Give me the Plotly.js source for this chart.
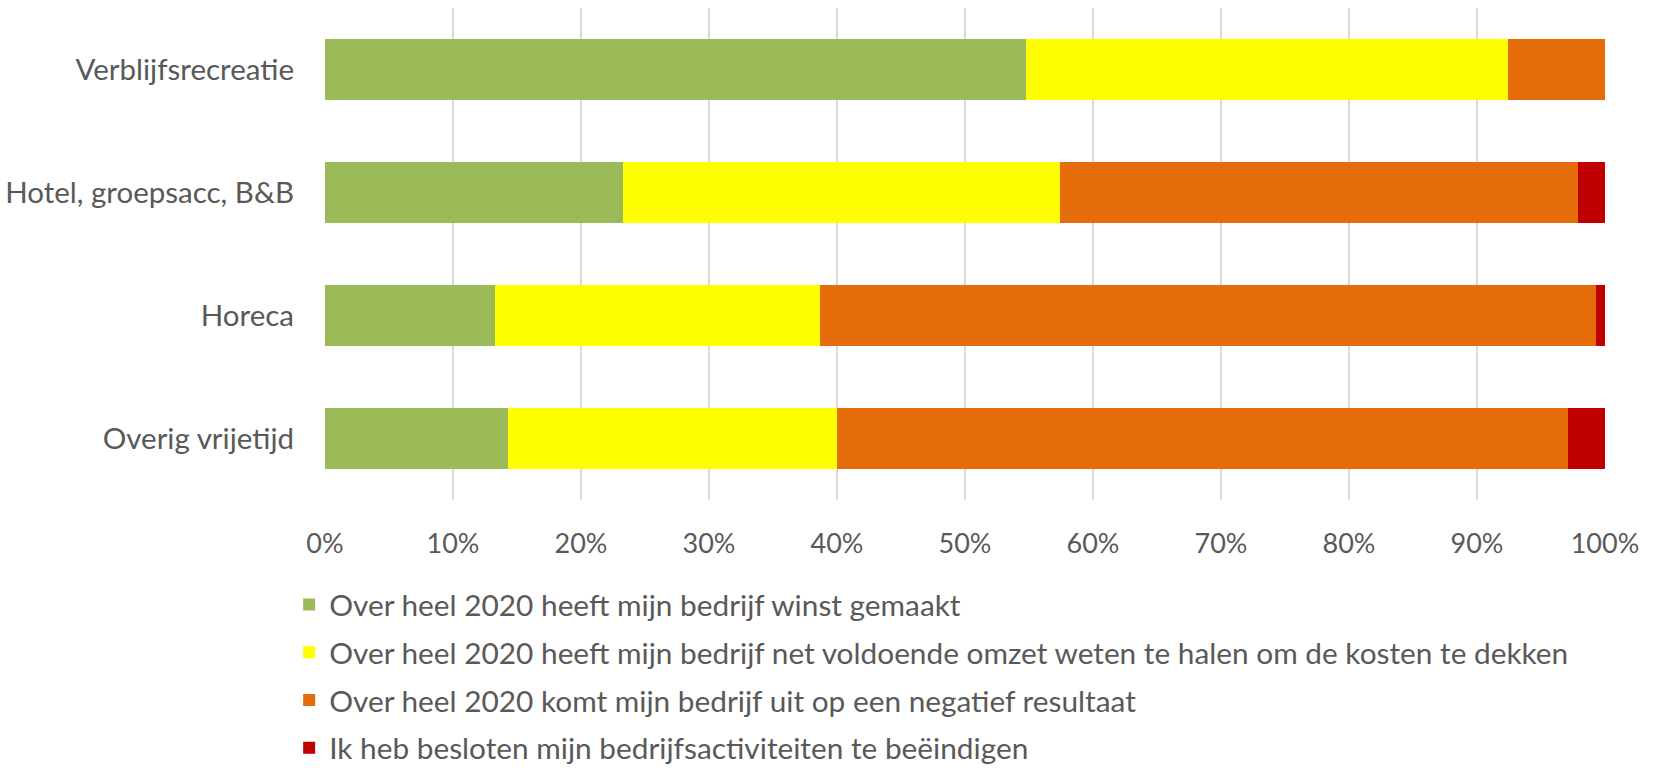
<!DOCTYPE html>
<html>
<head>
<meta charset="utf-8">
<script src="https://cdn.plot.ly/plotly-3.0.1.min.js"></script>
<style>html,body{margin:0;padding:0;background:#fff}#chart{width:1656px;height:769px}</style>
</head>
<body>
<div id="chart"></div>
<script>
const categories = ["Verblijfsrecreatie", "Hotel, groepsacc, B&B", "Horeca", "Overig vrijetijd"];
const seriesNames = [
  "Over heel 2020 heeft mijn bedrijf winst gemaakt",
  "Over heel 2020 heeft mijn bedrijf net voldoende omzet weten te halen om de kosten te dekken",
  "Over heel 2020 komt mijn bedrijf uit op een negatief resultaat",
  "Ik heb besloten mijn bedrijfsactiviteiten te beëindigen"
];
const winst = [0.548, 0.233, 0.133, 0.143];
const voldoende = [0.376, 0.341, 0.254, 0.257];
const negatief = [0.076, 0.405, 0.606, 0.571];
const beeindigen = [0.000, 0.021, 0.007, 0.029];
const colors = ["#9BBB59", "#FFFF00", "#E46C0A", "#C00000"];
const tickVals = [0, 0.1, 0.2, 0.3, 0.4, 0.5, 0.6, 0.7, 0.8, 0.9, 1.0];
const tickText = ["0%", "10%", "20%", "30%", "40%", "50%", "60%", "70%", "80%", "90%", "100%"];

const values = [winst, voldoende, negatief, beeindigen];
const FONT = "Lato, 'Liberation Sans', sans-serif";
const traces = values.map((v, i) => ({
  type: "bar",
  orientation: "h",
  y: categories,
  x: v,
  name: seriesNames[i],
  legendgroup: "g" + i,
  marker: { color: colors[i], line: { width: 0 } },
  hoverinfo: "x+y+name"
}));

const layout = {
  width: 1656, height: 769,
  margin: { l: 325, r: 51, t: 8, b: 269, autoexpand: false },
  barmode: "stack",
  bargap: 0.5,
  paper_bgcolor: "#ffffff",
  plot_bgcolor: "#ffffff",
  font: { family: FONT, color: "#595959", size: 29.8 },
  xaxis: {
    range: [0, 1],
    tickvals: tickVals,
    ticktext: tickText,
    showgrid: true,
    gridcolor: "#D9D9D9",
    gridwidth: 1.5,
    zeroline: false,
    showline: false,
    ticks: "",
    ticklabelstandoff: 25,
    tickfont: { family: FONT, size: 27, color: "#595959" }
  },
  yaxis: {
    autorange: "reversed",
    showgrid: false,
    zeroline: false,
    showline: false,
    ticks: "",
    ticklabelstandoff: 30,
    tickfont: { family: FONT, size: 29.5, color: "#595959" }
  },
  showlegend: true,
  legend: {
    orientation: "v",
    x: -0.028, xanchor: "left",
    y: -0.16, yanchor: "top",
    traceorder: "grouped",
    tracegroupgap: 6,
    font: { family: FONT, size: 29.8, color: "#595959" },
    bgcolor: "rgba(0,0,0,0)",
    itemclick: false
  }
};

Plotly.newPlot("chart", traces, layout, { displayModeBar: false, staticPlot: true });
</script>
</body>
</html>
